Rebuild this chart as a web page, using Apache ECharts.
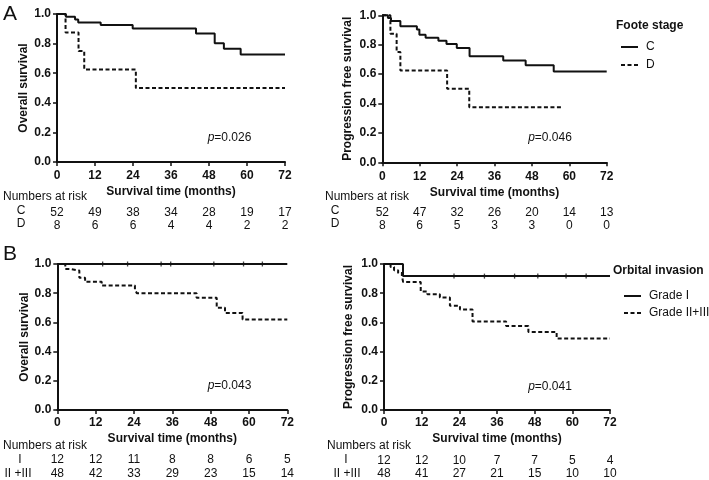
<!DOCTYPE html>
<html>
<head>
<meta charset="utf-8">
<script src="https://cdn.jsdelivr.net/npm/echarts@6/dist/echarts.min.js"></script>
<style>html,body{margin:0;padding:0;background:#fff}#c{width:709px;height:480px}</style>
</head>
<body>
<div id="c"></div>
<script>
// ---- data ----
const xTicks = [0, 12, 24, 36, 48, 60, 72];
const yTicks = [0, 0.2, 0.4, 0.6, 0.8, 1.0];

// Panel A left: overall survival by Foote stage
const aOsCTime = [0, 2.8, 5.7, 6.7, 13.8, 23.9, 43.9, 49.8, 52.7, 58, 72];
const aOsCSurv = [1, 0.981, 0.962, 0.943, 0.925, 0.902, 0.868, 0.803, 0.766, 0.727, 0.727];
const aOsDTime = [0, 2.7, 6.8, 8.6, 24.9, 72];
const aOsDSurv = [1, 0.875, 0.75, 0.625, 0.5, 0.5];

// Panel A right: progression free survival by Foote stage
const aPfsCTime = [0, 1.8, 2.8, 5.8, 11.1, 11.9, 13.9, 18, 20.6, 23.9, 28, 38.8, 46, 55, 72];
const aPfsCSurv = [1, 0.981, 0.962, 0.925, 0.904, 0.867, 0.847, 0.827, 0.804, 0.778, 0.722, 0.692, 0.66, 0.617, 0.617];
const aPfsDTime = [0, 2.6, 4.6, 5.8, 20.8, 27.9, 58];
const aPfsDSurv = [1, 0.875, 0.75, 0.625, 0.5, 0.375, 0.375];

// Panel B left: overall survival by orbital invasion
const bOsITime = [0, 72];
const bOsISurv = [1, 1];
const bOsICensor = [14.2, 22, 32.5, 35.5, 49, 58.3, 64.2];
const bOsIITime = [0, 2.5, 4.2, 6.9, 8.7, 13.9, 24.3, 24.9, 43.6, 49.9, 52.5, 58, 72];
const bOsIISurv = [1, 0.966, 0.955, 0.905, 0.878, 0.852, 0.825, 0.80, 0.768, 0.70, 0.665, 0.62, 0.62];

// Panel B right: progression free survival by orbital invasion
const bPfsITime = [0, 6.05, 72];
const bPfsISurv = [1, 0.917, 0.917];
const bPfsICensor = [22.3, 32, 41.6, 49, 58, 64.4];
const bPfsIITime = [0, 2.1, 3.2, 4.5, 5.7, 6.1, 11.7, 13.8, 17.8, 21, 24.2, 28.2, 38.9, 46, 55, 72];
const bPfsIISurv = [1, 0.979, 0.958, 0.938, 0.917, 0.877, 0.812, 0.792, 0.77, 0.714, 0.688, 0.607, 0.575, 0.535, 0.49, 0.49];

// Numbers at risk
const riskAOsC = [52, 49, 38, 34, 28, 19, 17];
const riskAOsD = [8, 6, 6, 4, 4, 2, 2];
const riskAPfsC = [52, 47, 32, 26, 20, 14, 13];
const riskAPfsD = [8, 6, 5, 3, 3, 0, 0];
const riskBOsI = [12, 12, 11, 8, 8, 6, 5];
const riskBOsII = [48, 42, 33, 29, 23, 15, 14];
const riskBPfsI = [12, 12, 10, 7, 7, 5, 4];
const riskBPfsII = [48, 41, 27, 21, 15, 10, 10];

// ---- chart ----
const FONT = '"Liberation Sans", Arial, Helvetica, sans-serif';
const INK = '#111';
const pairs = (t, s) => t.map((v, i) => [v, s[i]]);

const grids = [
  { left: 57, top: 14, width: 228, height: 148 },
  { left: 382.3, top: 15.3, width: 224.4, height: 147 },
  { left: 57.3, top: 264, width: 230, height: 148 },
  { left: 384, top: 264, width: 226, height: 146.7 }
];
const yNames = ['Overall survival', 'Progression free survival', 'Overall survival', 'Progression free survival'];
const risks = [[riskAOsC, riskAOsD], [riskAPfsC, riskAPfsD], [riskBOsI, riskBOsII], [riskBPfsI, riskBPfsII]];
const riskOffsets = [[45, 58], [44.5, 57], [44, 58], [45, 58]];
const nameGaps = [24, 24, 23, 23];
const labelMargins = [8, 8, 7, 7];

const xAxes = [], yAxes = [];
grids.forEach((g, gi) => {
  xAxes.push({
    type: 'value', gridIndex: gi, min: 0, max: 72, interval: 12, position: 'bottom',
    axisLine: { show: true, onZero: false, lineStyle: { color: INK, width: 2 } },
    axisTick: { show: true, length: 4, lineStyle: { color: INK, width: 1.5 } },
    axisLabel: { color: INK, fontFamily: FONT, fontSize: 12, fontWeight: 'bold', margin: labelMargins[gi] },
    splitLine: { show: false },
    name: 'Survival time (months)', nameLocation: 'middle', nameGap: nameGaps[gi],
    nameTextStyle: { color: INK, fontFamily: FONT, fontSize: 12, fontWeight: 'bold' }
  });
  risks[gi].forEach((row, ri) => {
    xAxes.push({
      type: 'value', gridIndex: gi, min: 0, max: 72, interval: 12, position: 'bottom',
      offset: riskOffsets[gi][ri],
      axisLine: { show: false }, axisTick: { show: false }, splitLine: { show: false },
      axisLabel: {
        color: INK, fontFamily: FONT, fontSize: 12, margin: 0,
        formatter: v => String(row[xTicks.indexOf(v)])
      }
    });
  });
  yAxes.push({
    type: 'value', gridIndex: gi, min: 0, max: 1, interval: 0.2,
    axisLine: { show: true, lineStyle: { color: INK, width: 2 } },
    axisTick: { show: true, length: 4, lineStyle: { color: INK, width: 1.5 } },
    axisLabel: { color: INK, fontFamily: FONT, fontSize: 12, fontWeight: 'bold', margin: 6,
      formatter: v => v.toFixed(1) },
    splitLine: { show: false },
    name: yNames[gi], nameLocation: 'middle', nameGap: gi % 2 === 0 ? 27 : 29,
    nameTextStyle: { color: INK, fontFamily: FONT, fontSize: 12, fontWeight: 'bold' }
  });
});
// main x axis index for each grid: 0,3,6,9
const mainX = [0, 3, 6, 9];

function km(name, gi, t, s, dashed) {
  return {
    type: 'line', name, xAxisIndex: mainX[gi], yAxisIndex: gi, step: 'end',
    symbol: 'none', clip: false, data: pairs(t, s),
    lineStyle: { color: INK, width: 2, type: dashed ? [4, 2.5] : 'solid' },
    itemStyle: { color: INK }, animation: false
  };
}
function censor(gi, times, value) {
  return {
    type: 'scatter', name: 'censor' + gi, xAxisIndex: mainX[gi], yAxisIndex: gi,
    symbol: 'rect', symbolSize: [1.3, 5], clip: false,
    itemStyle: { color: INK }, data: times.map(t => [t, value]), animation: false, silent: true
  };
}

const series = [
  km('C', 0, aOsCTime, aOsCSurv, false),
  km('D', 0, aOsDTime, aOsDSurv, true),
  km('C', 1, aPfsCTime, aPfsCSurv, false),
  km('D', 1, aPfsDTime, aPfsDSurv, true),
  km('Grade I', 2, bOsITime, bOsISurv, false),
  km('Grade II+III', 2, bOsIITime, bOsIISurv, true),
  km('Grade I', 3, bPfsITime, bPfsISurv, false),
  km('Grade II+III', 3, bPfsIITime, bPfsIISurv, true),
  censor(2, bOsICensor, 1),
  censor(3, bPfsICensor, bPfsISurv[1])
];

const txt = (x, y, text, extra) => ({
  type: 'text', x, y, silent: true,
  style: Object.assign({ text, fill: INK, font: '12px ' + FONT, textAlign: 'left', textVerticalAlign: 'middle' }, extra || {})
});
const pText = (x, y, val) => ({
  type: 'text', x, y, silent: true,
  style: {
    text: '{i|p}=' + val, fill: INK, font: '12px ' + FONT, textAlign: 'center', textVerticalAlign: 'middle',
    rich: { i: { fontStyle: 'italic', fontFamily: FONT, fontSize: 12, fill: INK } }
  }
});

const graphic = [
  txt(3, 14, 'A', { font: '21px ' + FONT }),
  txt(3, 254, 'B', { font: '21px ' + FONT }),
  txt(616, 26, 'Foote stage', { font: 'bold 12px ' + FONT }),
  txt(613, 271, 'Orbital invasion', { font: 'bold 12px ' + FONT }),
  pText(229.5, 138, '0.026'),
  pText(550, 137.5, '0.046'),
  pText(229.5, 386, '0.043'),
  pText(550, 386.5, '0.041'),
  txt(3, 197, 'Numbers at risk'),
  txt(21, 211, 'C', { textAlign: 'center' }),
  txt(21, 224, 'D', { textAlign: 'center' }),
  txt(325, 197, 'Numbers at risk'),
  txt(335, 211, 'C', { textAlign: 'center' }),
  txt(335, 224, 'D', { textAlign: 'center' }),
  txt(3, 446, 'Numbers at risk'),
  txt(20, 460, 'I', { textAlign: 'center' }),
  txt(18, 474, 'II +III', { textAlign: 'center' }),
  txt(327, 446, 'Numbers at risk'),
  txt(346, 460, 'I', { textAlign: 'center' }),
  txt(347, 474, 'II +III', { textAlign: 'center' })
];

const legendBase = {
  orient: 'vertical', itemWidth: 17, itemHeight: 12, selectedMode: false,
  itemStyle: { opacity: 0, borderWidth: 0 },
  textStyle: { color: INK, fontFamily: FONT, fontSize: 12, padding: [0, 0, 0, 3] }
};

const chart = echarts.init(document.getElementById('c'), null, { renderer: 'canvas' });
chart.setOption({
  backgroundColor: '#fff',
  animation: false,
  grid: grids,
  xAxis: xAxes,
  yAxis: yAxes,
  legend: [
    Object.assign({}, legendBase, { left: 615, top: 36, itemGap: 6, data: ['C', 'D'] }),
    Object.assign({}, legendBase, { left: 618, top: 285, itemGap: 5, data: ['Grade I', 'Grade II+III'] })
  ],
  series,
  graphic
});
</script>
</body>
</html>
